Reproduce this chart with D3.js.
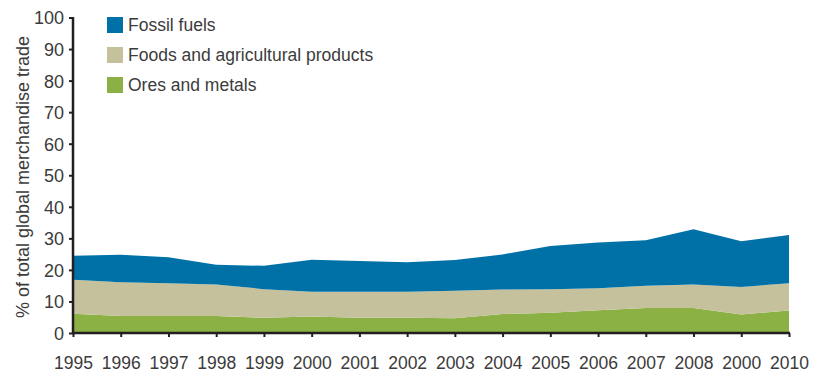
<!DOCTYPE html>
<html><head><meta charset="utf-8">
<script src="https://cdn.jsdelivr.net/npm/d3@7"></script>
<style>
html,body{margin:0;padding:0;background:#fff;}
svg text{font-family:"Liberation Sans",Arial,Helvetica,sans-serif;fill:#3b3b3b;}
</style></head>
<body>
<svg id="chart" width="821" height="376"></svg>
<script>
const years = ["1995","1996","1997","1998","1999","2000","2001","2002","2003","2004","2005","2006","2007","2008","2000","2010"];
const oresMetals = [6.1,5.4,5.4,5.4,4.8,5.2,4.8,4.8,4.7,6.0,6.4,7.2,7.9,7.9,5.9,7.1];
const foodsAgri = [10.8,10.7,10.4,10.0,9.1,7.9,8.3,8.3,8.7,7.8,7.5,7.0,7.1,7.5,8.7,8.7];
const fossilFuels = [7.6,8.7,8.2,6.2,7.4,10.1,9.7,9.3,9.7,11.1,13.7,14.5,14.4,17.5,14.5,15.3];
const seriesNames = ["Ores and metals","Foods and agricultural products","Fossil fuels"];
const yTicks = [0,10,20,30,40,50,60,70,80,90,100];
const colors = {"Fossil fuels":"#0071a7","Foods and agricultural products":"#c5c19d","Ores and metals":"#8bb043"};

const rows = years.map((y,i)=>({i, "Ores and metals":oresMetals[i], "Foods and agricultural products":foodsAgri[i], "Fossil fuels":fossilFuels[i]}));

const svg = d3.select("#chart");
const x = d3.scaleLinear().domain([0, years.length-1]).range([73, 789]);
const y = d3.scaleLinear().domain([0,100]).range([333, 17.5]);

const stack = d3.stack().keys(seriesNames);
const layers = stack(rows);
const area = d3.area().x(d=>x(d.data.i)).y0(d=>y(d[0])).y1(d=>y(d[1])).curve(d3.curveLinear);

svg.append("g").selectAll("path").data(layers).join("path")
  .attr("d", area).attr("fill", d=>colors[d.key]);

// Y axis
const yAxis = svg.append("g").attr("transform","translate(73,0)")
  .call(d3.axisLeft(y).tickValues(yTicks).tickSize(4).tickPadding(5).tickFormat(d3.format("d")));
yAxis.select(".domain").attr("stroke","#231f20").attr("stroke-width",2.5).attr("d","M0,17V333");
yAxis.selectAll(".tick line").attr("stroke","#231f20").attr("stroke-width",2);
yAxis.selectAll(".tick text").attr("font-size",18).attr("fill","#3b3b3b").attr("dy","0.36em");

// X axis
const xAxis = svg.append("g").attr("transform","translate(0,333)")
  .call(d3.axisBottom(x).tickValues(d3.range(years.length)).tickSize(4).tickPadding(20).tickFormat(i=>years[i]));
xAxis.select(".domain").attr("stroke","#231f20").attr("stroke-width",2.5).attr("d","M72,0H790");
xAxis.selectAll(".tick line").attr("stroke","#231f20").attr("stroke-width",2);
xAxis.selectAll(".tick text").attr("font-size",17.5).attr("fill","#3b3b3b");

// Y title
svg.append("text").attr("transform","translate(29,177) rotate(-90)")
  .attr("text-anchor","middle").attr("font-size",18).attr("fill","#3b3b3b")
  .text("% of total global merchandise trade");

// Legend
const legendOrder = ["Fossil fuels","Foods and agricultural products","Ores and metals"];
const lg = svg.append("g").selectAll("g").data(legendOrder).join("g")
  .attr("transform",(d,i)=>`translate(107,${17+i*30})`);
lg.append("rect").attr("width",16).attr("height",16).attr("fill",d=>colors[d]);
lg.append("text").attr("x",21).attr("y",8).attr("dy","0.36em").attr("font-size",17.5).attr("fill","#3b3b3b").text(d=>d);
</script>
</body></html>
